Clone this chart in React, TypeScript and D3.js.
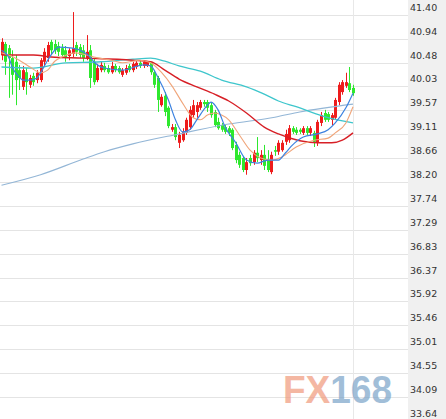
import * as d3 from "d3";

const W = 446;
const H = 419;
const plotRight = 408;

// price axis labels (right side)
const tickLabels = [
  "41.40", "40.94", "40.48", "40.03", "39.57", "39.11", "38.66", "38.20", "37.74",
  "37.29", "36.83", "36.37", "35.92", "35.46", "35.01", "34.55", "34.09", "33.64",
];

// candles, oldest first
const opens = [
  40.63, 40.84, 40.76, 40.57, 40.5, 40.34, 40.02, 40.3, 40.06, 40.23,
  40.15, 40.15, 40.5, 40.57, 40.88, 40.84, 40.8, 40.76, 40.72, 40.61,
  40.65, 40.82, 40.78, 40.72, 40.57, 40.72, 40.5, 40.15, 40.34, 40.42,
  40.38, 40.3, 40.42, 40.38, 40.25, 40.29, 40.42, 40.34, 40.4, 40.48,
  40.42, 40.42, 40.48, 40.3, 40.19, 39.67, 39.85, 39.62, 39.2, 39.25,
  38.95, 39.0, 39.14, 39.25, 39.48, 39.54, 39.62, 39.73, 39.73, 39.67,
  39.54, 39.35, 39.29, 39.25, 39.23, 39.2, 38.91, 38.72, 38.66, 38.43,
  38.66, 38.58, 38.76, 38.62, 38.72, 38.62, 38.39, 38.81, 38.78, 38.81,
  38.97, 39.0, 39.23, 39.2, 39.2, 39.14, 39.23, 39.14, 39.14, 38.95,
  39.33, 39.52, 39.5, 39.39, 39.43, 39.73, 39.92, 40.04, 40.09, 40.0,
];
const closes = [
  40.88, 40.5, 40.57, 40.25, 40.15, 40.19, 40.34, 40.11, 40.19, 40.11,
  40.29, 40.53, 40.69, 40.82, 40.72, 40.72, 40.69, 40.63, 40.57, 40.72,
  40.76, 40.69, 40.63, 40.57, 40.69, 40.19, 40.11, 40.38, 40.44, 40.34,
  40.3, 40.42, 40.34, 40.3, 40.34, 40.38, 40.34, 40.46, 40.48, 40.42,
  40.5, 40.5, 40.3, 40.06, 39.77, 39.83, 39.54, 39.27, 39.25, 39.06,
  39.1, 39.16, 39.39, 39.58, 39.67, 39.67, 39.73, 39.69, 39.62, 39.48,
  39.29, 39.23, 39.2, 39.16, 39.14, 38.85, 38.62, 38.53, 38.43, 38.58,
  38.56, 38.76, 38.66, 38.72, 38.51, 38.43, 38.72, 38.78, 38.95, 38.95,
  39.12, 39.23, 39.16, 39.14, 39.16, 39.23, 39.14, 39.23, 38.97, 39.35,
  39.48, 39.39, 39.39, 39.48, 39.77, 40.06, 40.11, 40.11, 39.96, 39.9,
];
const highs = [
  40.95, 40.88, 40.82, 40.72, 40.63, 40.44, 40.42, 40.38, 40.25, 40.29,
  40.34, 40.57, 40.76, 40.88, 40.92, 40.92, 40.88, 40.84, 40.8, 40.76,
  41.45, 40.88, 40.84, 40.82, 41.01, 40.82, 40.57, 40.46, 40.5, 40.48,
  40.44, 40.5, 40.46, 40.42, 40.38, 40.44, 40.46, 40.5, 40.51, 40.51,
  40.53, 40.51, 40.5, 40.34, 40.23, 39.88, 39.92, 39.65, 39.31, 39.31,
  39.16, 39.23, 39.43, 39.65, 39.77, 39.73, 39.77, 39.77, 39.77, 39.73,
  39.58, 39.43, 39.33, 39.29, 39.27, 39.23, 38.97, 38.78, 38.7, 38.66,
  38.72, 38.81, 39.06, 38.81, 38.91, 38.81, 38.78, 38.89, 39.0, 39.0,
  39.2, 39.29, 39.27, 39.25, 39.23, 39.27, 39.27, 39.27, 39.18, 39.39,
  39.54, 39.58, 39.54, 39.52, 39.81, 40.11, 40.15, 40.29, 40.4, 40.06,
];
const lows = [
  40.53, 40.25, 39.81, 39.87, 39.67, 39.96, 39.96, 39.87, 40.0, 40.04,
  40.09, 40.11, 40.42, 40.5, 40.63, 40.65, 40.61, 40.57, 40.5, 40.53,
  40.59, 40.61, 40.57, 40.5, 40.53, 40.0, 40.06, 40.11, 40.3, 40.3,
  40.27, 40.27, 40.3, 40.27, 40.21, 40.25, 40.3, 40.3, 40.36, 40.38,
  40.38, 40.4, 40.25, 40.0, 39.54, 39.64, 39.46, 39.23, 39.16, 39.0,
  38.85, 38.97, 39.1, 39.2, 39.43, 39.43, 39.58, 39.64, 39.54, 39.43,
  39.25, 39.2, 39.16, 39.12, 39.08, 38.81, 38.56, 38.47, 38.39, 38.34,
  38.51, 38.53, 38.58, 38.53, 38.43, 38.39, 38.35, 38.7, 38.72, 38.78,
  38.91, 38.95, 39.12, 39.1, 39.12, 39.1, 39.1, 39.08, 38.87, 38.89,
  39.27, 39.35, 39.35, 39.29, 39.39, 39.67, 39.87, 40.0, 39.92, 39.85,
];

// moving averages: [candle index, price]
const maFast: [number, number][] = [
  [0, 40.72], [2, 40.59], [3, 40.4], [5, 40.21], [6, 40.15], [8, 40.15], [10, 40.19],
  [11, 40.29], [13, 40.53], [15, 40.72], [16, 40.78], [20, 40.76], [23, 40.69],
  [25, 40.59], [26, 40.5], [29, 40.38], [34, 40.34], [40, 40.44], [42, 40.42],
  [44, 40.21], [47, 39.77], [49, 39.39], [51, 39.16], [53, 39.2], [55, 39.39],
  [58, 39.67], [59, 39.73], [61, 39.58], [63, 39.25], [66, 38.95], [69, 38.62],
  [72, 38.56], [75, 38.62], [78, 38.62], [80, 38.76], [82, 38.91], [85, 39.06],
  [89, 39.12], [92, 39.2], [94, 39.33], [97, 39.62], [99, 39.9],
];
const maMid: [number, number][] = [
  [0, 40.67], [2, 40.63], [5, 40.53], [8, 40.4], [11, 40.29], [13, 40.34], [15, 40.51],
  [17, 40.59], [21, 40.67], [24, 40.63], [26, 40.59], [31, 40.53], [34, 40.48],
  [39, 40.53], [42, 40.48], [45, 40.3], [48, 40.04], [51, 39.71], [54, 39.43],
  [56, 39.39], [58, 39.48], [60, 39.52], [62, 39.48], [64, 39.39], [67, 39.1],
  [70, 38.81], [73, 38.66], [76, 38.62], [79, 38.68], [83, 38.87], [88, 39.0],
  [92, 39.04], [94, 39.14], [97, 39.33], [99, 39.64],
];
const maRed: [number, number][] = [
  [0, 40.63], [9, 40.63], [14, 40.59], [23, 40.57], [37, 40.53], [42, 40.5],
  [46, 40.34], [50, 40.17], [55, 40.02], [60, 39.88], [64, 39.75], [69, 39.52],
  [74, 39.25], [78, 39.12], [84, 38.99], [89, 38.95], [93, 38.95], [96, 39.0], [99, 39.14],
];
const maTeal: [number, number][] = [
  [0, 40.4], [9, 40.38], [18, 40.48], [28, 40.5], [37, 40.55], [42, 40.57], [46, 40.51],
  [50, 40.42], [56, 40.32], [62, 40.15], [69, 40.02], [74, 39.88], [78, 39.75],
  [83, 39.64], [92, 39.43], [99, 39.33],
];
const maSlow: [number, number][] = [
  [0, 38.14], [11, 38.34], [23, 38.64], [29, 38.78], [37, 38.93], [50, 39.12],
  [64, 39.31], [77, 39.44], [84, 39.54], [99, 39.69],
];

const UP = "#ee1c1c";
const DOWN = "#2ee82e";

export default function App() {
  const x = d3.scaleLinear().domain([0, opens.length - 1]).range([1.5, 353]);
  const y = d3.scaleLinear().domain([41.4, 33.64]).range([14.7, 420.5]);

  const line = d3
    .line<[number, number]>()
    .curve(d3.curveMonotoneX)
    .x((d) => x(d[0]))
    .y((d) => y(d[1]));

  const maLines = [
    { pts: maSlow, color: "#93b6d6", w: 1.1 },
    { pts: maTeal, color: "#3ec6cc", w: 1.3 },
    { pts: maRed, color: "#d71f26", w: 1.4 },
    { pts: maMid, color: "#f0a57a", w: 1.1 },
    { pts: maFast, color: "#3c82e0", w: 1.2 },
  ];

  return (
    <svg
      width={W}
      height={H}
      style={{ position: "absolute", left: 0, top: 0, background: "#fff" }}
    >
      {/* right axis panel */}
      <rect x={plotRight} y={0} width={W - plotRight} height={H} fill="#f0f0f0" />

      {/* grid */}
      {tickLabels.map((t) => (
        <line
          key={"g" + t}
          x1={0}
          x2={plotRight}
          y1={Math.round(y(+t)) + 0.5}
          y2={Math.round(y(+t)) + 0.5}
          stroke="#e4e4e4"
        />
      ))}
      <line
        x1={Math.round(x(opens.length - 1)) + 0.5}
        x2={Math.round(x(opens.length - 1)) + 0.5}
        y1={0}
        y2={H}
        stroke="#e8e8e8"
      />

      {/* candles */}
      {opens.map((o, i) => {
        const c = closes[i];
        const col = c >= o ? UP : DOWN;
        const cx = Math.round(x(i)) + 0.5;
        const top = y(Math.max(o, c));
        const h = Math.max(1, Math.abs(y(o) - y(c)));
        return (
          <g key={i}>
            <line x1={cx} x2={cx} y1={y(highs[i])} y2={y(lows[i])} stroke={col} strokeWidth={1} />
            <rect x={cx - 1.5} y={top} width={3} height={h} fill={col} />
          </g>
        );
      })}

      {/* moving averages */}
      {maLines.map((m, k) => (
        <path key={k} d={line(m.pts) || ""} fill="none" stroke={m.color} strokeWidth={m.w} />
      ))}

      {/* watermark */}
      <text
        x={283}
        y={403}
        fontFamily="Liberation Sans, Arial, sans-serif"
        fontWeight="bold"
        fontSize={38}
        opacity={0.7}
        textLength={109}
        lengthAdjust="spacingAndGlyphs"
      >
        <tspan fill="#f09a7c">FX</tspan>
        <tspan fill="#7aa3c8">168</tspan>
      </text>

      {/* price labels */}
      {tickLabels.map((t) => (
        <text
          key={"t" + t}
          x={410}
          y={y(+t) - 4}
          fontFamily="DejaVu Sans, Verdana, sans-serif"
          fontSize={9.5}
          fill="#333"
        >
          {t}
        </text>
      ))}
    </svg>
  );
}
